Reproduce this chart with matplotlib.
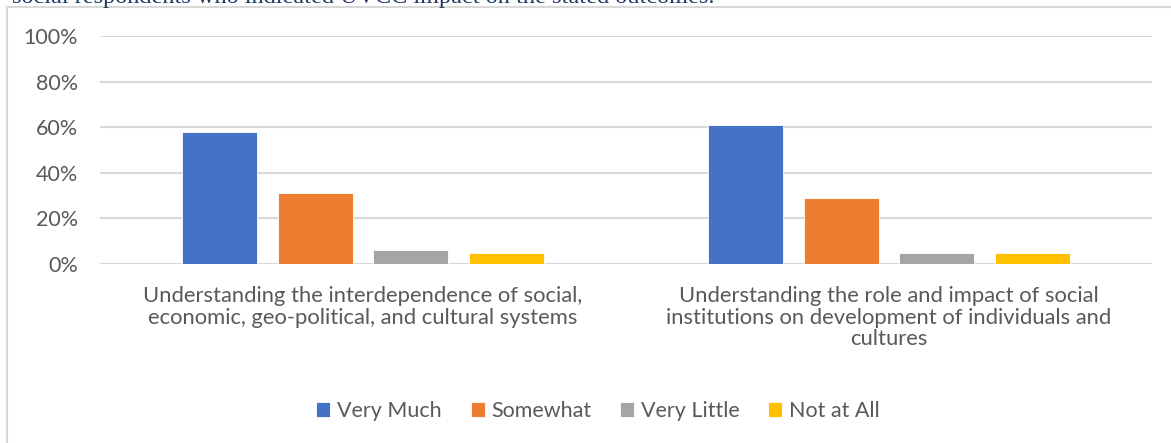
import numpy as np
import matplotlib
matplotlib.use("Agg")
import matplotlib.pyplot as plt
from matplotlib.lines import Line2D
from matplotlib.ticker import PercentFormatter

plt.rcParams['font.family'] = ['Lato', 'DejaVu Sans']

categories = [
    "Understanding the interdependence of social,\neconomic, geo-political, and cultural systems",
    "Understanding the role and impact of social\ninstitutions on development of individuals and\ncultures",
]
series = ["Very Much", "Somewhat", "Very Little", "Not at All"]
values = {
    "Very Much": [58, 61],
    "Somewhat": [31, 29],
    "Very Little": [6, 5],
    "Not at All": [5, 5],
}
colors = ["#4472C4", "#ED7D31", "#A5A5A5", "#FFC000"]

fig = plt.figure(figsize=(11.71, 4.43), dpi=100)
ax = fig.add_axes([100 / 1171, 1 - 264 / 443, 1052 / 1171, 228 / 443])

x = np.arange(len(categories))
step = 0.1816
width = 0.1426
for i, (name, col) in enumerate(zip(series, colors)):
    ax.bar(x + (i - 1.5) * step, values[name], width, color=col,
           edgecolor="white", linewidth=0.6, label=name, zorder=3)

ax.set_xlim(-0.5, 1.5)
ax.set_ylim(0, 100)
ax.set_yticks(range(0, 101, 20))
ax.yaxis.set_major_formatter(PercentFormatter(decimals=0))
ax.yaxis.grid(True, color="#D9D9D9", linewidth=1.5, zorder=0)
for s in ax.spines.values():
    s.set_visible(False)
ax.axhline(0, color="#D9D9D9", linewidth=1.5, zorder=2)
ax.tick_params(axis="y", length=0, pad=16, labelsize=15.5, labelcolor="#595959")
ax.tick_params(axis="x", length=0, pad=16, labelsize=15.8, labelcolor="#595959")
ax.set_xticks(x)
ax.set_xticklabels(categories, linespacing=1.1)

leg = fig.legend(loc="center", bbox_to_anchor=(598 / 1171, 1 - 411 / 443), ncol=4,
                 frameon=False, fontsize=15.5, handlelength=0.65, handleheight=0.65,
                 handletextpad=0.3, columnspacing=1.35)
for t in leg.get_texts():
    t.set_color("#595959")

# light chart border, running off the right and bottom edges
fig.add_artist(Line2D([6.5 / 1171, 6.5 / 1171], [-0.05, 1 - 7 / 443],
                      transform=fig.transFigure, color="#D9D9D9", linewidth=1.5))
fig.add_artist(Line2D([6.5 / 1171, 1.05], [1 - 7 / 443, 1 - 7 / 443],
                      transform=fig.transFigure, color="#D9D9D9", linewidth=1.5))

# caption line above the chart, cut by the page edge
fig.text(715 / 1171, 1 - 3 / 443, "social respondents who indicated UVCC impact on the stated outcomes.",
         ha="right", va="baseline", fontsize=17.5, family=["Liberation Serif"], color="#1F3864")

fig.savefig("out.png", dpi=100, facecolor="white")
